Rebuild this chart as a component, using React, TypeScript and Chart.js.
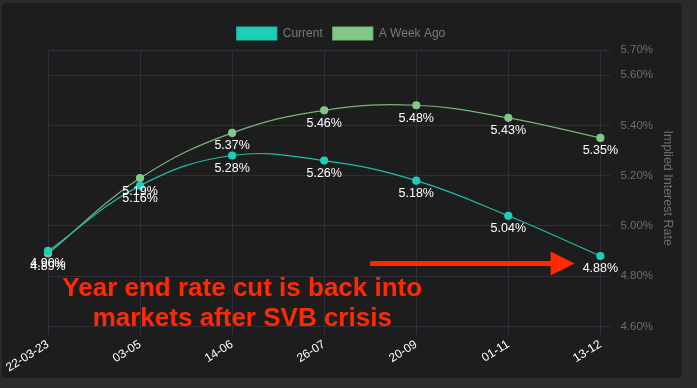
import React, { useEffect, useRef } from "react";
import { Chart, registerables } from "chart.js";

Chart.register(...registerables);

const categories = ["22-03-23", "03-05", "14-06", "26-07", "20-09", "01-11", "13-12"];
const currentRates = [4.9, 5.16, 5.28, 5.26, 5.18, 5.04, 4.88];
const weekAgoRates = [4.89, 5.19, 5.37, 5.46, 5.48, 5.43, 5.35];
const yTickValues = [4.6, 4.8, 5.0, 5.2, 5.4, 5.6, 5.7];
const annotationLines = ["Year end rate cut is back into", "markets after SVB crisis"];

const FONT = '"Liberation Sans", Arial, Helvetica, sans-serif';
const RED = "#ff2a00";

const dataLabelPlugin = {
  id: "pointValueLabels",
  afterDatasetsDraw(chart: any) {
    const ctx = chart.ctx;
    ctx.save();
    ctx.font = `12.5px ${FONT}`;
    ctx.fillStyle = "#ffffff";
    ctx.textAlign = "center";
    ctx.textBaseline = "middle";
    chart.data.datasets.forEach((ds: any, di: number) => {
      const meta = chart.getDatasetMeta(di);
      meta.data.forEach((el: any, i: number) => {
        ctx.fillText(ds.data[i].toFixed(2) + "%", el.x, el.y + 13);
      });
    });
    ctx.restore();
  },
};

const annotationPlugin = {
  id: "redAnnotation",
  afterDraw(chart: any) {
    const ctx = chart.ctx;
    const xs = chart.scales.x;
    const ys = chart.scales.y;
    ctx.save();
    const ay = ys.getPixelForValue(4.85);
    const ax0 = xs.getPixelForValue(3.5);
    const ax1 = xs.getPixelForValue(5.72);
    const headLen = 24;
    ctx.fillStyle = RED;
    ctx.fillRect(ax0, ay - 2.5, ax1 - headLen - ax0 + 1, 5);
    ctx.beginPath();
    ctx.moveTo(ax1 - headLen, ay - 12);
    ctx.lineTo(ax1, ay);
    ctx.lineTo(ax1 - headLen, ay + 12);
    ctx.closePath();
    ctx.fill();
    ctx.font = `bold 26px ${FONT}`;
    ctx.textAlign = "center";
    ctx.textBaseline = "alphabetic";
    const tx = xs.getPixelForValue(2.11);
    ctx.fillText(annotationLines[0], tx, ys.getPixelForValue(4.72));
    ctx.fillText(annotationLines[1], tx, ys.getPixelForValue(4.603));
    ctx.restore();
  },
};

export default function App() {
  const ref = useRef<HTMLCanvasElement | null>(null);
  useEffect(() => {
    document.body.style.margin = "0";
    document.body.style.background = "#2b2b2b";
    const chart = new Chart(ref.current as HTMLCanvasElement, {
      type: "line",
      data: {
        labels: categories,
        datasets: [
          {
            label: "Current",
            data: currentRates,
            borderColor: "#1bbfa9",
            backgroundColor: "#1ccfb9",
            pointBackgroundColor: "#1ccfb9",
            pointBorderColor: "#1ccfb9",
            borderWidth: 1.2,
            pointRadius: 3.5,
            tension: 0.4,
          },
          {
            label: "A Week Ago",
            data: weekAgoRates,
            borderColor: "#72b876",
            backgroundColor: "#82c985",
            pointBackgroundColor: "#82c985",
            pointBorderColor: "#82c985",
            borderWidth: 1.2,
            pointRadius: 3.5,
            tension: 0.4,
          },
        ],
      },
      options: {
        animation: false,
        responsive: false,
        maintainAspectRatio: false,
        layout: { padding: { top: 14, left: 5, right: 7, bottom: 0 } },
        plugins: {
          legend: {
            position: "top",
            labels: {
              boxWidth: 40,
              boxHeight: 13,
              color: "#7a7a7a",
              font: { family: FONT, size: 12 },
            },
          },
          tooltip: { enabled: false },
        },
        scales: {
          x: {
            afterFit: (axis: any) => {
              axis.paddingLeft = 46;
            },
            grid: { color: "#2e2e3c", tickLength: 8 },
            border: { color: "#2e2e3c" },
            ticks: {
              color: "#ffffff",
              font: { family: FONT, size: 12 },
              minRotation: 32,
              maxRotation: 32,
            },
          },
          y: {
            position: "right",
            min: 4.6,
            max: 5.7,
            afterBuildTicks: (axis: any) => {
              axis.ticks = yTickValues.map((v) => ({ value: v }));
            },
            afterFit: (axis: any) => {
              axis.width -= 3;
            },
            grid: { color: "#2e2e3c", tickLength: 10 },
            border: { color: "#2e2e3c" },
            ticks: {
              color: "#6e6e6e",
              padding: 10,
              font: { family: FONT, size: 11.5 },
              callback: (v: any) => Number(v).toFixed(2) + "%",
            },
            title: {
              display: true,
              text: "Implied Interest Rate",
              color: "#6e6e6e",
              padding: 0,
              font: { family: FONT, size: 12.5 },
            },
          },
        },
      },
      plugins: [dataLabelPlugin, annotationPlugin],
    });
    return () => chart.destroy();
  }, []);
  return (
    <div
      style={{
        position: "absolute",
        left: 2,
        top: 3,
        width: 680,
        height: 375,
        background: "#1d1d1d",
        borderRadius: 4,
      }}
    >
      <canvas ref={ref} width={680} height={375} style={{ display: "block" }} />
    </div>
  );
}
